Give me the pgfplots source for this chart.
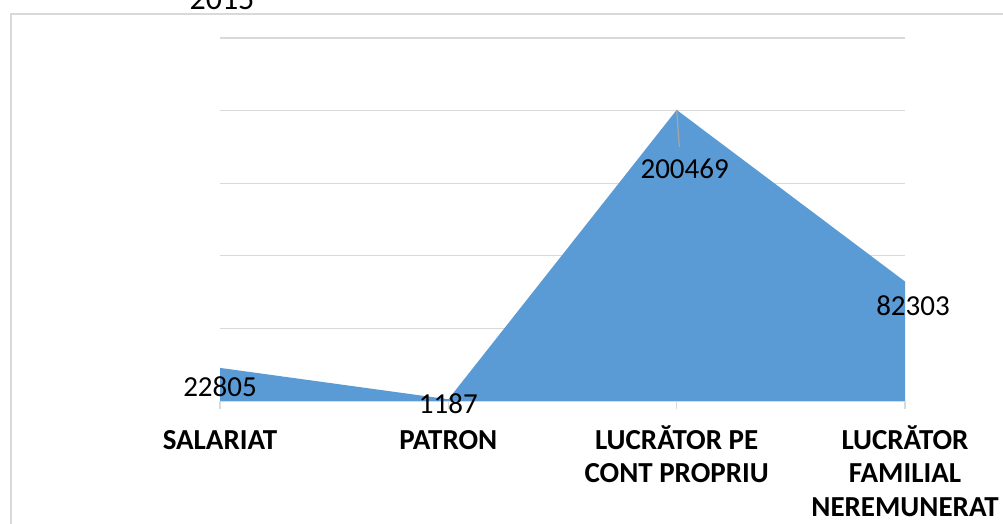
\documentclass[border=0pt]{standalone}
\usepackage{pgfplots}
\pgfplotsset{compat=1.18}
\usepackage{fontspec}
\setmainfont{Carlito}
\definecolor{areablue}{HTML}{5B9BD5}
\definecolor{gridgray}{HTML}{D9D9D9}
\definecolor{leadgray}{HTML}{A6A6A6}
\newcommand{\tl}{\rule{0pt}{30pt}}
\begin{document}
\begin{tikzpicture}[x=1pt,y=1pt]
\useasboundingbox (0,0) rectangle (1003,524);
\draw[color=gridgray, line width=1.5pt] (11,-20) -- (11,510) -- (1020,510);
\node[anchor=base, inner sep=0pt, font=\fontsize{32}{38}\selectfont] at (222,514) {2015};
\begin{axis}[
  scale only axis, width=685pt, height=363pt,
  at={(220pt,123pt)}, anchor=south west,
  xmin=0, xmax=3, ymin=0, ymax=250000,
  axis x line=bottom, axis y line=left,
  axis line style={-},
  x axis line style={gridgray, line width=1.2pt},
  y axis line style={draw=none},
  xtick={0,1,2,3},
  xticklabels={\tl SALARIAT, \tl PATRON, {\tl LUCRĂTOR PE\\CONT PROPRIU}, {\tl LUCRĂTOR\\FAMILIAL\\NEREMUNERAT}},
  xticklabel style={font=\bfseries\fontsize{29}{33.5}\selectfont, align=center, anchor=north, inner sep=0pt, yshift=-10pt},
  tick align=outside, major tick length=8pt,
  xtick style={gridgray, line width=1.2pt},
  ytick={0,50000,100000,150000,200000,250000},
  scaled y ticks=false,
  yticklabels={},
  ytick style={draw=none},
  ymajorgrids, grid style={gridgray, line width=1.2pt},
  clip=false,
]
\addplot[fill=areablue, draw=none] coordinates {(0,22805) (1,1187) (2,200469) (3,82303)} \closedcycle;
\draw[leadgray, line width=1.2pt] (axis cs:2,200469) -- (axis cs:2.0117,175000);
\node[font=\fontsize{29}{35}\selectfont, inner sep=0pt] at (axis cs:0,22805) [yshift=-19pt] {22805};
\node[font=\fontsize{29}{35}\selectfont, inner sep=0pt] at (axis cs:1,1187) [yshift=-4pt] {1187};
\node[font=\fontsize{29}{35}\selectfont, inner sep=0pt] at (axis cs:2,200469) [xshift=8pt, yshift=-59pt] {200469};
\node[font=\fontsize{29}{35}\selectfont, inner sep=0pt] at (axis cs:3,82303) [xshift=8pt, yshift=-24pt] {82303};
\end{axis}
\end{tikzpicture}
\end{document}
